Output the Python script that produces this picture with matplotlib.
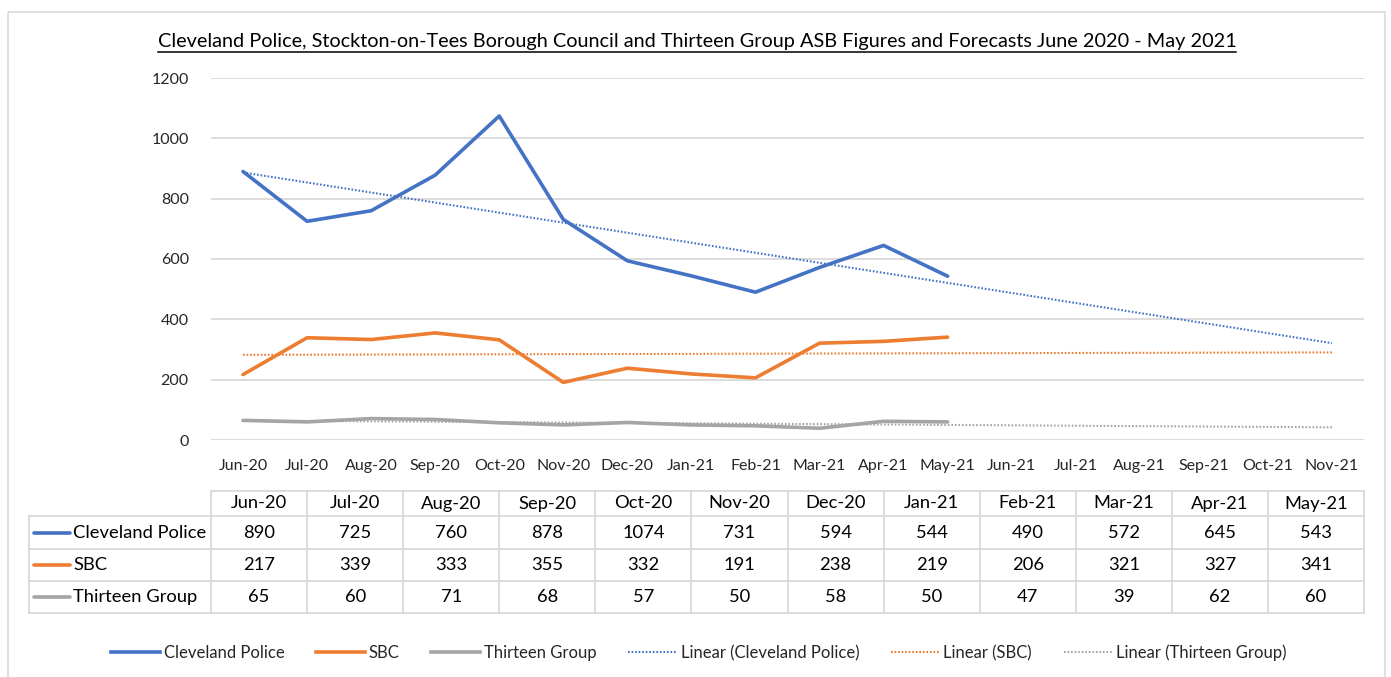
import numpy as np
import matplotlib
matplotlib.use("Agg")
import matplotlib.pyplot as plt
from matplotlib.lines import Line2D
from matplotlib.patches import Rectangle

# axis categories (actuals plus forecast months)
axis_months = ["Jun-20", "Jul-20", "Aug-20", "Sep-20", "Oct-20", "Nov-20",
               "Dec-20", "Jan-21", "Feb-21", "Mar-21", "Apr-21", "May-21",
               "Jun-21", "Jul-21", "Aug-21", "Sep-21", "Oct-21", "Nov-21"]
# table column headers
table_months = ["Jun-20", "Jul-20", "Aug-20", "Sep-20", "Oct-20", "Nov-20",
                "Dec-20", "Jan-21", "Feb-21", "Mar-21", "Apr-21", "May-21"]

series_names = ["Cleveland Police", "SBC", "Thirteen Group"]
cleveland = [890, 725, 760, 878, 1074, 731, 594, 544, 490, 572, 645, 543]
sbc = [217, 339, 333, 355, 332, 191, 238, 219, 206, 321, 327, 341]
thirteen = [65, 60, 71, 68, 57, 50, 58, 50, 47, 39, 62, 60]
series_values = [cleveland, sbc, thirteen]
colors = ["#4472C4", "#ED7D31", "#A5A5A5"]

title = ("Cleveland Police, Stockton-on-Tees Borough Council and Thirteen Group "
         "ASB Figures and Forecasts June 2020 - May 2021")

FONT = ["Lato", "DejaVu Sans"]
plt.rcParams["font.family"] = FONT

W, H = 1391, 677
fig = plt.figure(figsize=(W / 100, H / 100), dpi=100)


def fx(px):
    return px / W


def fy(py):
    return 1 - py / H


DOTS = (0, (0.8, 0.9))

# pixel-space canvas for frame, table and title
canvas = fig.add_axes([0, 0, 1, 1], zorder=0)
canvas.set_xlim(0, W)
canvas.set_ylim(H, 0)
canvas.axis("off")
canvas.add_patch(Rectangle((8, 12), 1377, 700, fill=False, ec="#d9d9d9", lw=1.2))

# main line chart
ax = fig.add_axes([fx(211), fy(440), (1364 - 211) / W, (440 - 78) / H], zorder=2)
ax.patch.set_alpha(0)
x_all = np.arange(len(axis_months))
x_data = np.arange(len(table_months))

for vals, col in zip(series_values, colors):
    ax.plot(x_data, vals, color=col, lw=2.6, solid_capstyle="round",
            solid_joinstyle="round", zorder=3)
for vals, col in zip(series_values, colors):
    slope, icpt = np.polyfit(x_data, vals, 1)
    ax.plot(x_all, slope * x_all + icpt, color=col, lw=1.5,
            linestyle=DOTS, dash_capstyle="butt", zorder=4)

ax.set_xlim(-0.5, len(axis_months) - 0.5)
ax.set_ylim(0, 1200)
ax.set_yticks(np.arange(0, 1201, 200))
ax.set_xticks(x_all)
ax.set_xticklabels(axis_months)
ax.grid(axis="y", color="#d9d9d9", lw=1.3)
ax.set_axisbelow(True)
for s in ax.spines.values():
    s.set_visible(False)
ax.tick_params(length=0, labelsize=11.5, colors="#262626")
ax.tick_params(axis="x", pad=14)
ax.tick_params(axis="y", pad=16)

# title with underline
t = canvas.text(697, 42, title, ha="center", va="center", fontsize=14.3, color="black")

# data table
col_edges = np.linspace(211, 1364, len(table_months) + 1)
row_edges = [491, 516, 549, 581, 613]
grid_c = "#d9d9d9"
for xe in col_edges:
    canvas.plot([xe, xe], [row_edges[0], row_edges[-1]], color=grid_c, lw=1.3)
canvas.plot([29, 29], [row_edges[1], row_edges[-1]], color=grid_c, lw=1.3)
canvas.plot([col_edges[0], col_edges[-1]], [row_edges[0], row_edges[0]], color=grid_c, lw=1.3)
for ye in row_edges[1:]:
    canvas.plot([29, col_edges[-1]], [ye, ye], color=grid_c, lw=1.3)

centers = (col_edges[:-1] + col_edges[1:]) / 2
hy = (row_edges[0] + row_edges[1]) / 2
for cx, m in zip(centers, table_months):
    canvas.text(cx, hy, m, ha="center", va="center", fontsize=13.2, color="black")
for r, (name, vals, col) in enumerate(zip(series_names, series_values, colors)):
    cy = (row_edges[r + 1] + row_edges[r + 2]) / 2
    canvas.plot([34, 70], [cy, cy], color=col, lw=2.6, solid_capstyle="round")
    canvas.text(73, cy, name, ha="left", va="center", fontsize=13.2, color="black")
    for cx, v in zip(centers, vals):
        canvas.text(cx, cy, str(v), ha="center", va="center", fontsize=13.2, color="black")

# legend
handles = [Line2D([], [], color=c, lw=2.6) for c in colors]
handles += [Line2D([], [], color=c, lw=1.5, linestyle=DOTS, dash_capstyle="butt")
            for c in colors]
labels = series_names + ["Linear (" + n + ")" for n in series_names]
fig.legend(handles, labels, loc="center", bbox_to_anchor=(fx(699), fy(653)),
           ncol=6, frameon=False, fontsize=12, handlelength=2.9,
           handletextpad=0.25, columnspacing=1.9, labelcolor="#262626")

fig.canvas.draw()
bb = t.get_window_extent()
inv = canvas.transData.inverted()
(x0, y0), (x1, y1) = inv.transform([[bb.x0, bb.y0], [bb.x1, bb.y1]])
canvas.plot([x0, x1], [y0 + 1, y0 + 1], color="black", lw=1.1)

fig.savefig("out.png", dpi=100)
